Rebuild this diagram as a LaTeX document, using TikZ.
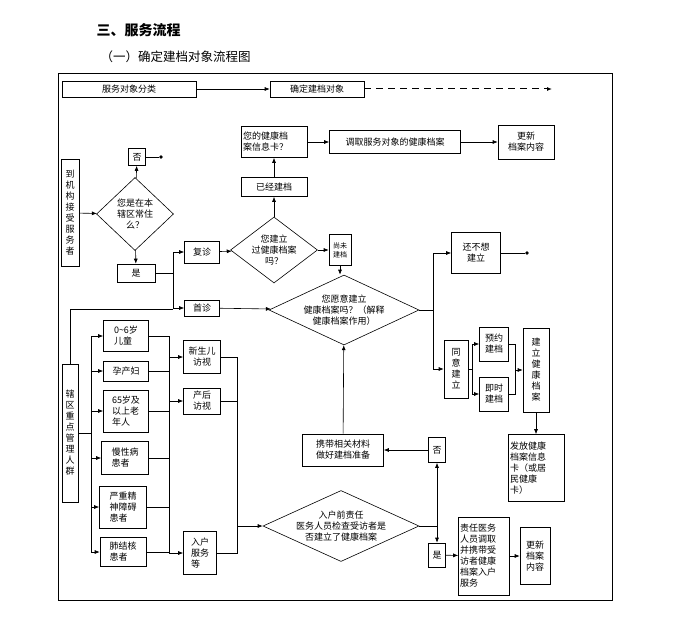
\documentclass[tikz,border=0pt]{standalone}
\usepackage{fontspec}
\setmainfont{Noto Sans CJK SC}
\usetikzlibrary{shapes.geometric,arrows.meta}

\begin{document}
\begin{tikzpicture}[x=1pt,y=-1pt,>={Latex[length=5pt,width=4pt]},thick,line width=0.6pt,
    font=\fontsize{9}{11}\selectfont]
    \tikzset{box/.style={draw,inner sep=1pt,align=center},
             dia/.style={draw,diamond,inner sep=0pt},
             diatext/.style={align=center,inner sep=0pt},
             dot/.style={circle,fill,inner sep=1.3pt}}
    \useasboundingbox (0,0) rectangle (678,626);

    % Titles
    \node[anchor=west,font=\fontsize{14}{16}\selectfont\bfseries] (title) at (93,30) {三、服务流程};
    \node[anchor=west,font=\fontsize{12.5}{14}\selectfont] (subtitle) at (97,57) {（一）确定建档对象流程图};
    \draw (58,73) rectangle (612,600);

    % Top row
    \node[box,minimum width=134,minimum height=16] (kind) at (129,89) {服务对象分类};
    \node[box,minimum width=94,minimum height=16] (target) at (317,89) {确定建档对象};
    \coordinate (tend) at (552,89);
    \draw[->] (kind) -- (target);
    \draw[->,dashed,line width=1pt,dash pattern=on 7pt off 5pt] (target) -- (tend);

    % Upper part
    \node[box,minimum width=18,minimum height=107,text width=9pt] (arrive) at (70,213) {到\\机\\构\\接\\受\\服\\务\\者};
    \node[dia,minimum width=77,minimum height=73] (resident) at (135,214) {};
    \node[diatext] (residentt) at (135,214) {您是在本\\辖区常住\\么？};
    \node[box,minimum width=17,minimum height=17] (no1) at (137,157) {否};
    \node[dot] (end1) at (161,157) {};
    \node[box,minimum width=38,minimum height=18] (yes1) at (136,273) {是};
    \node[box,minimum width=35,minimum height=22] (revisit) at (202,252) {复诊};
    \node[box,minimum width=35,minimum height=16] (first) at (202,308) {首诊};
    \node[dia,minimum width=87,minimum height=66] (built) at (274,250) {};
    \node[diatext] (builtt) at (274,250) {您建立\\过健康档案\\吗？};
    \node[box,minimum width=66,minimum height=19] (already) at (274,187) {已经建档};
    \node[box,minimum width=66,minimum height=31,text width=62pt,align=left] (card) at (274,142) {您的健康档\\案信息卡？};
    \node[box,minimum width=131,minimum height=23] (fetch) at (395,142) {调取服务对象的健康档案};
    \node[box,minimum width=56,minimum height=34] (update1) at (526,142) {更新\\档案内容};
    \node[box,minimum width=22,minimum height=31,inner sep=0pt,font=\fontsize{7}{9}\selectfont] (notyet) at (340,250) {尚未\\建档};
    \node[dia,minimum width=150,minimum height=70] (willing) at (344,310) {};
    \node[diatext] (willingt) at (344,310) {您愿意建立\\健康档案吗？（解释\\健康档案作用）};
    \node[box,minimum width=49,minimum height=41] (refuse) at (476,253) {还不想\\建立};
    \node[dot] (end2) at (527,253) {};

    % Agree branch
    \node[box,minimum width=24,minimum height=58,text width=9pt] (agree) at (456,369) {同\\意\\建\\立};
    \node[box,minimum width=29,minimum height=34] (book) at (494,344) {预约\\建档};
    \node[box,minimum width=29,minimum height=34] (now) at (494,394) {即时\\建档};
    \node[box,minimum width=26,minimum height=84,text width=9pt] (create) at (536,370) {建\\立\\健\\康\\档\\案};
    \node[box,minimum width=56,minimum height=67,text width=52pt,align=left] (issue) at (536,468) {发放健康\\档案信息\\卡（或居\\民健康\\卡）};

    % Key groups
    \node[box,minimum width=16,minimum height=138,text width=9pt] (key) at (70,433) {辖\\区\\重\\点\\管\\理\\人\\群};
    \node[box,minimum width=45,minimum height=31,align=left] (child) at (126,336) {0\textasciitilde 6岁\\儿童};
    \node[box,minimum width=45,minimum height=20] (mother) at (126,371) {孕产妇};
    \node[box,minimum width=45,minimum height=42,align=left] (elder) at (126,411) {65岁及\\以上老\\年人};
    \node[box,minimum width=47,minimum height=33,align=left] (chronic) at (125,458) {慢性病\\患者};
    \node[box,minimum width=47,minimum height=42,align=left] (mental) at (123,507) {严重精\\神障碍\\患者};
    \node[box,minimum width=46,minimum height=29,align=left] (tb) at (123,552) {肺结核\\患者};
    \node[box,minimum width=37,minimum height=33] (newborn) at (202,357) {新生儿\\访视};
    \node[box,minimum width=37,minimum height=26] (postnatal) at (202,401) {产后\\访视};
    \node[box,minimum width=33,minimum height=43,align=left] (home) at (200,553) {入户\\服务\\等};

    % Lower part
    \node[dia,minimum width=156,minimum height=71] (check) at (341,526) {};
    \node[diatext] (checkt) at (341,526) {入户前责任\\医务人员检查受访者是\\否建立了健康档案};
    \node[box,minimum width=81,minimum height=32] (carry) at (343,450) {携带相关材料\\做好建档准备};
    \node[box,minimum width=17,minimum height=25] (no2) at (437,450) {否};
    \node[box,minimum width=17,minimum height=24] (yes2) at (437,555) {是};
    \node[box,minimum width=51,minimum height=78,text width=48pt,align=left] (doctor) at (484,556) {责任医务\\人员调取\\并携带受\\访者健康\\档案入户\\服务};
    \node[box,minimum width=30,minimum height=57] (update2) at (535,556) {更新\\档案\\内容};

    % Edges: upper
    \draw[->] (arrive) -- (resident);
    \draw[->] (resident) -- (no1);
    \draw (no1) -- (end1);
    \draw[->] (resident) -- (yes1);
    \draw (yes1.east) -- (173,273);
    \draw[->] (173,273) |- (revisit);
    \draw[->] (173,273) |- (first);
    \draw[->] (revisit) -- (built);
    \draw[->] (built) -- (already);
    \draw[->] (already) -- (card);
    \draw[->] (card) -- (fetch);
    \draw[->] (fetch) -- (update1);
    \draw[->] (built) -- (notyet);
    \draw[->] (notyet.south) -- (notyet.south |- willing.north);
    \draw[->] (first) -- (willing);
    \draw (key.north) |- (173,309);
    \draw (willing.east) -- (433,310);
    \draw[->] (433,310) |- (refuse);
    \draw (refuse) -- (end2);
    \draw[->] (433,310) |- (agree.west);
    \draw (agree.east) -- (472,369);
    \draw[->] (472,369) |- (book);
    \draw[->] (472,369) |- (now);
    \draw (book.east) -- (515,344) -- (515,394) -- (now.east);
    \draw[->] (515,370) -- (create);
    \draw[->] (create) -- (issue);

    % Edges: key groups
    \draw (key.east |- 0,433) -- (91,433);
    \draw (91,336) -- (91,553);
    \foreach \g in {child,mother,elder,chronic,mental,tb}
        \draw[->] (91,0 |- \g.west) -- (\g.west);
    \foreach \g in {child,mother,elder,chronic,mental,tb}
        \draw (\g.east) -- (169,0 |- \g.east);
    \draw (169,336) -- (169,553);
    \draw[->] (169,357) -- (newborn);
    \draw[->] (169,401) -- (postnatal);
    \draw[->] (169,553) -- (home);
    \draw (newborn.east) -- (237,357) -- (237,553) -- (home.east);
    \draw (postnatal.east) -- (237,401);
    \draw[->] (237,526) -- (check);

    % Edges: lower
    \draw (check.east) -- (437,526);
    \draw[->] (437,526) -- (no2);
    \draw[->] (437,526) -- (yes2);
    \draw[->] (no2) -- (carry);
    \draw[->] (carry) -- (willing);
    \draw[->] (yes2) -- (doctor);
    \draw[->] (doctor) -- (update2);
\end{tikzpicture}
\end{document}
